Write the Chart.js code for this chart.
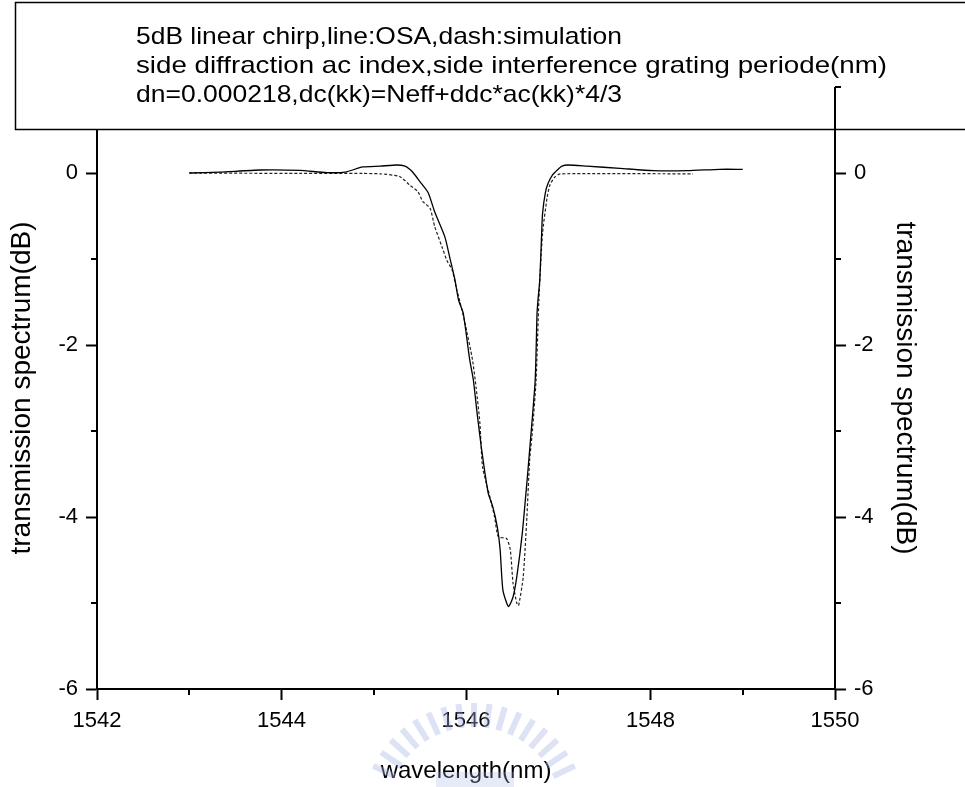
<!DOCTYPE html>
<html>
<head>
<meta charset="utf-8">
<script src="https://cdn.jsdelivr.net/npm/chart.js@4/dist/chart.umd.min.js"></script>
<style>
  html, body { margin: 0; padding: 0; background: #fff; }
  #wrap { width: 965px; height: 787px; position: relative; }
</style>
</head>
<body>
<div id="wrap"><canvas id="c" width="965" height="787"></canvas></div>
<script>
// Measured transmission (OSA trace), wavelength in nm, level in dB
const osaWl = [1543.00, 1543.33, 1543.77, 1544.20, 1544.49, 1544.69, 1544.88, 1545.07, 1545.25, 1545.34,
               1545.39, 1545.43, 1545.50, 1545.59, 1545.66, 1545.77, 1545.83, 1545.88, 1545.92, 1545.97,
               1546.04, 1546.08, 1546.12, 1546.17, 1546.24, 1546.29, 1546.34, 1546.37, 1546.40, 1546.46,
               1546.51, 1546.55, 1546.61, 1546.66, 1546.69, 1546.75, 1546.77, 1546.78, 1546.80, 1546.82,
               1546.83, 1546.86, 1546.89, 1546.94, 1546.99, 1547.04, 1547.11, 1547.31, 1547.67, 1548.03,
               1548.40, 1548.75, 1549.00];
const osaDb = [0.00, 0.01, 0.035, 0.03, 0.005, 0.01, 0.07, 0.08, 0.093, 0.08,
               0.043, 0.00, -0.10, -0.23, -0.45, -0.74, -1.01, -1.24, -1.48, -1.63,
               -2.17, -2.41, -2.79, -3.22, -3.72, -3.88, -4.12, -4.38, -4.85, -5.04,
               -4.93, -4.70, -4.19, -3.60, -3.22, -2.41, -1.63, -1.48, -1.24, -0.70,
               -0.47, -0.23, -0.12, -0.02, 0.035, 0.08, 0.093, 0.08, 0.054, 0.027,
               0.027, 0.043, 0.043];

// Simulated transmission
const simWl = [1543.00, 1544.20, 1544.88, 1545.07, 1545.28, 1545.39, 1545.48, 1545.53, 1545.61, 1545.66,
               1545.74, 1545.79, 1545.85, 1545.90, 1545.93, 1545.99, 1546.07, 1546.11, 1546.15, 1546.18,
               1546.26, 1546.31, 1546.35, 1546.44, 1546.48, 1546.51, 1546.55, 1546.57, 1546.62, 1546.66,
               1546.69, 1546.72, 1546.76, 1546.79, 1546.83, 1546.88, 1546.91, 1546.96, 1547.02, 1548.46];
const simDb = [0.00, -0.005, -0.005, -0.01, -0.04, -0.14, -0.22, -0.33, -0.41, -0.62,
               -0.86, -1.01, -1.13, -1.36, -1.48, -1.75, -2.17, -2.50, -2.90, -3.42,
               -3.77, -4.00, -4.23, -4.25, -4.38, -4.77, -5.00, -5.03, -4.70, -4.00,
               -3.34, -3.00, -2.40, -1.48, -0.70, -0.28, -0.14, -0.05, -0.01, -0.01];

// Axis ranges and tick values
const xMajorTicks = [1542, 1544, 1546, 1548, 1550];
const xMinorTicks = [1543, 1545, 1547, 1549];
const yMajorTicks = [0, -2, -4, -6];
const yMinorTicks = [1, -1, -3, -5];
const xRange = [1542, 1550];
const yRange = [-6, 1];

// Annotation text in the box above the plot
const noteLines = [
  '5dB linear chirp,line:OSA,dash:simulation',
  'side diffraction ac index,side interference grating periode(nm)',
  'dn=0.000218,dc(kk)=Neff+ddc*ac(kk)*4/3'
];
// set width of each note line, px
const noteWidths = [486, 751, 486];
const xTitle = 'wavelength(nm)';
const yTitle = 'transmission spectrum(dB)';

const FONT = '"Liberation Sans", Arial, sans-serif';
const toPoints = (xs, ys) => xs.map((x, i) => ({ x: x, y: ys[i] }));

// Short minor ticks, the note box, and the right axis stub above the plot
const decorations = {
  id: 'decorations',
  beforeDatasetsDraw(chart) {
    // faint emblem behind the x axis title
    const ctx = chart.ctx;
    ctx.save();
    ctx.strokeStyle = 'rgba(165,182,228,0.38)';
    ctx.lineWidth = 6;
    const cx = 474, cy = 815;
    for (let a = 206; a <= 334; a += 8) {
      const r = a * Math.PI / 180;
      ctx.beginPath();
      ctx.moveTo(cx + Math.cos(r) * 88, cy + Math.sin(r) * 88);
      ctx.lineTo(cx + Math.cos(r) * 112, cy + Math.sin(r) * 112);
      ctx.stroke();
    }
    ctx.fillStyle = 'rgba(165,182,228,0.28)';
    ctx.fillRect(436, 772, 78, 15);
    ctx.restore();
  },
  afterDraw(chart) {
    const ctx = chart.ctx;
    const xs = chart.scales.x, yl = chart.scales.y, yr = chart.scales.y2;
    const area = chart.chartArea;
    ctx.save();
    ctx.strokeStyle = '#000';
    ctx.lineWidth = 2;
    ctx.beginPath();
    xMinorTicks.forEach(v => {
      const px = Math.round(xs.getPixelForValue(v));
      ctx.moveTo(px, area.bottom); ctx.lineTo(px, area.bottom + 6);
    });
    yMinorTicks.forEach(v => {
      const py = Math.round(yl.getPixelForValue(v));
      ctx.moveTo(area.left, py); ctx.lineTo(area.left - 6, py);
      ctx.moveTo(area.right, py); ctx.lineTo(area.right + 6, py);
    });
    ctx.stroke();

    // note box
    const bx = 15, by = 2, bw = 965, bh = 127;
    ctx.fillStyle = '#fff';
    ctx.fillRect(bx, by, bw, bh);
    ctx.lineWidth = 1.5;
    ctx.strokeRect(bx + 0.5, by + 0.5, bw, bh);
    ctx.fillStyle = '#000';
    ctx.font = '24px ' + FONT;
    ctx.textBaseline = 'middle';
    ctx.textAlign = 'left';
    noteLines.forEach((t, i) => {
      const sx = noteWidths[i] / ctx.measureText(t).width;
      ctx.save();
      ctx.translate(136, 37 + i * 29);
      ctx.scale(sx, 1);
      ctx.fillText(t, 0, 0);
      ctx.restore();
    });

    // right axis continues up to its top tick
    const top = Math.round(yr.getPixelForValue(yRange[1]));
    ctx.lineWidth = 2;
    ctx.beginPath();
    ctx.moveTo(area.right, top); ctx.lineTo(area.right, by + bh + 2);
    ctx.moveTo(area.right, top); ctx.lineTo(area.right + 6, top);
    ctx.stroke();
    ctx.restore();
  }
};

const plainLabel = v => String(v);

const axisBase = {
  type: 'linear',
  border: { display: true, color: '#000', width: 2 },
  grid: { drawOnChartArea: false, drawTicks: true, tickLength: 11, tickColor: '#000', tickWidth: 2 },
  ticks: { color: '#000', font: { family: FONT, size: 22 }, callback: plainLabel }
};

new Chart(document.getElementById('c'), {
  type: 'line',
  data: {
    datasets: [
      {
        label: 'OSA',
        data: toPoints(osaWl, osaDb),
        borderColor: '#000',
        borderWidth: 1.3,
        pointRadius: 0,
        tension: 0.2,
        fill: false
      },
      {
        label: 'simulation',
        data: toPoints(simWl, simDb),
        borderColor: '#222',
        borderWidth: 1.2,
        borderDash: [3, 2],
        pointRadius: 0,
        tension: 0.2,
        fill: false
      }
    ]
  },
  options: {
    responsive: false,
    animation: false,
    events: [],
    layout: { padding: { top: 87, left: 0, right: 0, bottom: 0 } },
    plugins: { legend: { display: false }, tooltip: { enabled: false } },
    scales: {
      x: Object.assign({}, axisBase, {
        position: 'bottom',
        min: xRange[0], max: xRange[1],
        afterFit: s => { s.height = 98; },
        afterBuildTicks: s => { s.ticks = xMajorTicks.map(v => ({ value: v })); },
        ticks: Object.assign({}, axisBase.ticks, { padding: 8, maxRotation: 0 }),
        title: { display: true, text: xTitle, color: '#000', font: { family: FONT, size: 24 }, padding: { top: 0, bottom: 1 } }
      }),
      y: Object.assign({}, axisBase, {
        position: 'left',
        min: yRange[0], max: yRange[1],
        afterFit: s => { s.width = 97; },
        afterBuildTicks: s => { s.ticks = yMajorTicks.map(v => ({ value: v })); },
        ticks: Object.assign({}, axisBase.ticks, { padding: 8 }),
        title: { display: true, text: yTitle, color: '#000', font: { family: FONT, size: 28 }, padding: { top: 5, bottom: 0 } }
      }),
      y2: Object.assign({}, axisBase, {
        position: 'right',
        min: yRange[0], max: yRange[1],
        afterFit: s => { s.width = 130; },
        afterBuildTicks: s => { s.ticks = yMajorTicks.map(v => ({ value: v })); },
        ticks: Object.assign({}, axisBase.ticks, { padding: 8 }),
        title: { display: true, text: yTitle, color: '#000', font: { family: FONT, size: 28 }, padding: { top: 43, bottom: 0 } }
      })
    }
  },
  plugins: [decorations]
});
</script>
</body>
</html>
